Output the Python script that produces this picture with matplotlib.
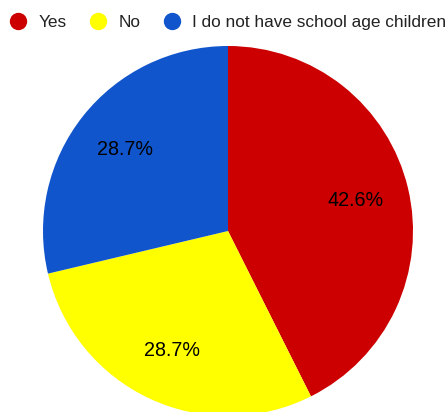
import matplotlib
matplotlib.use("Agg")
import matplotlib.pyplot as plt
from matplotlib.lines import Line2D

labels = ["Yes", "No", "I do not have school age children"]
shares = [42.6, 28.7, 28.7]
colors = ["#cc0000", "#ffff00", "#1155cc"]

W, H = 448, 412
fig = plt.figure(figsize=(W / 100, H / 100), dpi=100)
ax = fig.add_axes([0, 0, 1, 1])

ax.pie(shares, colors=colors, startangle=90, counterclock=False,
       center=(228, H - 231), radius=185, autopct="%.1f%%", pctdistance=0.71,
       textprops=dict(fontsize=14.2, color="#000000", family="Liberation Sans"),
       wedgeprops=dict(linewidth=0))
ax.set_xlim(0, W); ax.set_ylim(0, H); ax.set_aspect("equal"); ax.axis("off")

# legend row across the top, round markers
handles = [Line2D([], [], marker="o", ls="", ms=12.5, markerfacecolor=c, markeredgewidth=0) for c in colors]
leg = fig.legend(handles, labels, loc="upper left", bbox_to_anchor=(-0.015, 1.001), ncol=3, frameon=False,
                 handletextpad=0.65, columnspacing=1.25, handlelength=1.1,
                 prop=dict(family="Liberation Sans", size=12.4))
leg.set_zorder(10)
for t in leg.get_texts():
    t.set_color("#222222")
fig.savefig("out.png", dpi=100)
